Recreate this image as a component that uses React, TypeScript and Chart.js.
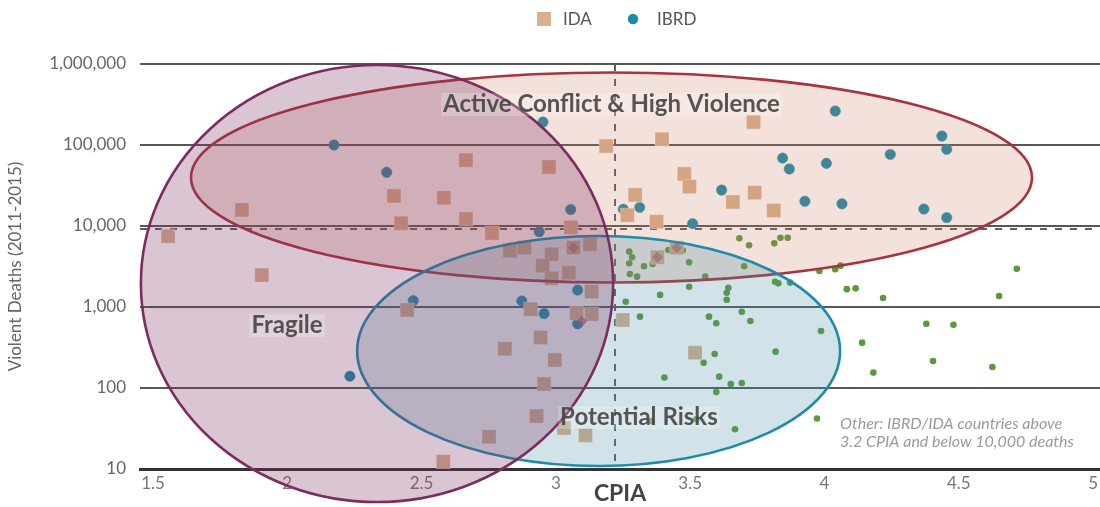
import React, { useEffect, useRef } from "react";
import { Chart, registerables } from "chart.js";

Chart.register(...registerables);

const FONT = "Lato, 'Open Sans', sans-serif";

// Axis ticks
const X_TICKS = [1.5, 2, 2.5, 3, 3.5, 4, 4.5, 5];
const Y_TICKS = [10, 100, 1000, 10000, 100000, 1000000];
const X_RANGE = [1.4516, 5.0257];
const Y_RANGE = [10, 1000000];

// Thresholds
const CPIA_THRESHOLD = 3.22;
const DEATHS_THRESHOLD = 9100;

// Legend
const LEGEND_LABELS = ["IDA", "IBRD"];

// IDA countries
const IDA_CPIA = [1.556, 1.831, 1.905, 2.397, 2.424, 2.446, 2.583, 2.665, 2.665, 2.762, 2.974, 3.187, 3.395, 3.736, 3.295, 3.266, 3.375, 3.478, 3.497, 3.659, 3.74, 3.811, 3.056, 2.829, 2.882, 2.984, 2.951, 2.984, 3.048, 3.065, 3.127, 3.133, 2.906, 3.077, 3.133, 2.943, 2.81, 2.996, 2.956, 2.928, 2.751, 3.03, 3.11, 2.581, 3.249, 3.518, 3.378, 3.45];
const IDA_DEATHS = [7500, 15800, 2480, 23500, 10800, 920, 22300, 65000, 12200, 8200, 53500, 97000, 118000, 192000, 24200, 13600, 11300, 44000, 30600, 19800, 25800, 15500, 9600, 4950, 5400, 4480, 3240, 2260, 2650, 5400, 5950, 1550, 940, 840, 820, 420, 305, 222, 112, 45, 25, 32, 26, 12.3, 690, 273, 4110, 5400];

// IBRD countries
const IBRD_CPIA = [2.174, 2.37, 2.952, 3.055, 2.938, 2.469, 2.233, 2.873, 2.956, 3.081, 3.081, 3.251, 3.312, 3.509, 3.617, 3.844, 3.869, 3.927, 4.007, 4.04, 4.065, 4.245, 4.37, 4.437, 4.455, 4.455];
const IBRD_DEATHS = [100000, 46000, 192000, 16000, 8500, 1200, 140, 1190, 830, 1620, 620, 16100, 17000, 10700, 27800, 69000, 50600, 20200, 59400, 263000, 18800, 76700, 16200, 129000, 88500, 12700];

// Blend (overlapping) markers
const BLEND_CPIA = [3.065, 3.096, 3.378, 3.45];
const BLEND_DEATHS = [5400, 660, 4110, 5400];

// Other IBRD/IDA countries
const OTHER_CPIA = [3.683, 3.719, 3.813, 3.836, 3.863, 3.273, 3.284, 3.273, 3.328, 3.36, 3.419, 3.472, 3.496, 3.275, 3.302, 3.701, 3.556, 3.816, 3.828, 3.872, 3.981, 4.04, 4.06, 4.083, 4.116, 4.218, 4.716, 4.65, 3.26, 3.388, 3.496, 3.642, 3.636, 3.636, 3.313, 3.57, 3.597, 3.692, 3.724, 3.987, 4.379, 4.48, 4.14, 4.404, 4.625, 4.182, 3.818, 3.591, 3.55, 3.404, 3.608, 3.651, 3.692, 3.597, 3.972, 3.667, 3.522, 3.357];
const OTHER_DEATHS = [7050, 5780, 6110, 7170, 7170, 4820, 4110, 3460, 3180, 3400, 5060, 5000, 3560, 2550, 2370, 3180, 2370, 2050, 1960, 2000, 2780, 2920, 3240, 1660, 1700, 1290, 2970, 1370, 1160, 1410, 1780, 1730, 1500, 1230, 760, 760, 630, 875, 671, 506, 622, 604, 363, 215, 182, 155, 281, 263, 205, 135, 138, 112, 115, 89, 42, 31, 41, 39];

// Regions (ellipses in CPIA units and log10 decades)
const REGION_NAMES = ["Active Conflict & High Violence", "Potential Risks", "Fragile"];
const REGION_CENTER_CPIA = [3.207, 3.159, 2.334];
const REGION_CENTER_DEATHS = [39700, 286, 1950];
const REGION_SPAN_CPIA = [1.5655, 0.899, 0.879];
const REGION_SPAN_DECADES = [1.296, 1.42, 2.698];
const REGION_LABEL_CPIA = [3.207, 3.309, 1.999];
const REGION_LABEL_DEATHS = [321000, 43.8, 600];

const NOTE_LINES = ["Other: IBRD/IDA countries above", "3.2 CPIA and below 10,000 deaths"];
const NOTE_CPIA = 4.058;
const NOTE_DEATHS = 36;

const REGION_STYLES = [
  { fill: "rgba(200,120,90,0.22)", stroke: "#A8343E" },
  { fill: "rgba(70,145,165,0.25)", stroke: "#1F8BAA" },
  { fill: "rgba(123,48,96,0.28)", stroke: "#7A2D5E" },
];

const IDA_COLOR = "#D9B18E";
const IBRD_COLOR = "#1A8BAA";
const OTHER_COLOR = "#5A9A3A";
const BLEND_COLOR = "rgba(190,100,100,0.75)";

const zip = (xs: number[], ys: number[]) => xs.map((x, i) => ({ x, y: ys[i] }));

const overlayPlugin = {
  id: "overlay",
  beforeDatasetsDraw(chart: any) {
    const { ctx, chartArea: a, scales } = chart;
    const x = scales.x;
    const y = scales.y;
    ctx.save();
    ctx.strokeStyle = "#5e5e5e";
    ctx.lineWidth = 2;
    ctx.setLineDash([7, 8]);
    const px = Math.round(x.getPixelForValue(CPIA_THRESHOLD));
    ctx.beginPath();
    ctx.moveTo(px, a.top);
    ctx.lineTo(px, a.bottom);
    ctx.stroke();
    const py = Math.round(y.getPixelForValue(DEATHS_THRESHOLD));
    ctx.beginPath();
    ctx.moveTo(a.left, py);
    ctx.lineTo(a.right, py);
    ctx.stroke();
    ctx.restore();
  },
  afterDatasetsDraw(chart: any) {
    const { ctx, chartArea: a, scales } = chart;
    const x = scales.x;
    const y = scales.y;
    ctx.save();
    // ellipses
    for (let i = 0; i < REGION_NAMES.length; i++) {
      const cx = x.getPixelForValue(REGION_CENTER_CPIA[i]);
      const rx = x.getPixelForValue(REGION_CENTER_CPIA[i] + REGION_SPAN_CPIA[i]) - cx;
      const cy = y.getPixelForValue(REGION_CENTER_DEATHS[i]);
      const ry = cy - y.getPixelForValue(REGION_CENTER_DEATHS[i] * Math.pow(10, REGION_SPAN_DECADES[i]));
      ctx.beginPath();
      ctx.ellipse(cx, cy, rx, ry, 0, 0, Math.PI * 2);
      ctx.fillStyle = REGION_STYLES[i].fill;
      ctx.fill();
      ctx.lineWidth = 2.6;
      ctx.strokeStyle = REGION_STYLES[i].stroke;
      ctx.stroke();
    }
    // region labels
    ctx.font = `bold 24px ${FONT}`;
    ctx.textAlign = "center";
    ctx.textBaseline = "middle";
    for (let i = 0; i < REGION_NAMES.length; i++) {
      const lx = x.getPixelForValue(REGION_LABEL_CPIA[i]);
      const ly = y.getPixelForValue(REGION_LABEL_DEATHS[i]);
      const w = ctx.measureText(REGION_NAMES[i]).width;
      ctx.fillStyle = "rgba(255,255,255,0.22)";
      ctx.fillRect(lx - w / 2 - 2, ly - 11, w + 4, 23);
      ctx.fillStyle = "rgba(68,68,68,0.9)";
      ctx.fillText(REGION_NAMES[i], lx, ly);
    }
    // note
    ctx.font = `italic 16px ${FONT}`;
    ctx.textAlign = "left";
    ctx.fillStyle = "#9a9a9a";
    const nx = x.getPixelForValue(NOTE_CPIA);
    const ny = y.getPixelForValue(NOTE_DEATHS);
    NOTE_LINES.forEach((t, i) => ctx.fillText(t, nx, ny + i * 18));
    // legend
    const c = (a.left + a.right) / 2;
    const ly = 19;
    ctx.font = `17px ${FONT}`;
    ctx.fillStyle = IDA_COLOR;
    ctx.fillRect(c - 83, ly - 7, 14, 14);
    ctx.fillStyle = "#555";
    ctx.fillText(LEGEND_LABELS[0], c - 57, ly + 1);
    ctx.fillStyle = IBRD_COLOR;
    ctx.beginPath();
    ctx.arc(c + 13, ly, 5.2, 0, Math.PI * 2);
    ctx.fill();
    ctx.fillStyle = "#555";
    ctx.fillText(LEGEND_LABELS[1], c + 37, ly + 1);
    ctx.restore();
  },
};

export default function App() {
  const ref = useRef<HTMLCanvasElement>(null);
  useEffect(() => {
    const chart = new Chart(ref.current as HTMLCanvasElement, {
      type: "scatter",
      data: {
        datasets: [
          {
            label: "Blend",
            data: zip(BLEND_CPIA, BLEND_DEATHS),
            pointStyle: "rectRot",
            pointRadius: 5.5,
            backgroundColor: BLEND_COLOR,
            borderWidth: 0,
          },
          {
            label: LEGEND_LABELS[0],
            data: zip(IDA_CPIA, IDA_DEATHS),
            pointStyle: "rect",
            pointRadius: 9.9,
            backgroundColor: IDA_COLOR,
            borderColor: "rgba(255,255,255,0.35)",
            borderWidth: 1,
          },
          {
            label: LEGEND_LABELS[1],
            data: zip(IBRD_CPIA, IBRD_DEATHS),
            pointStyle: "circle",
            pointRadius: 5.2,
            backgroundColor: IBRD_COLOR,
            borderColor: IBRD_COLOR,
            borderWidth: 0.5,
          },
          {
            label: "Other",
            data: zip(OTHER_CPIA, OTHER_DEATHS),
            pointStyle: "circle",
            pointRadius: 3.3,
            backgroundColor: OTHER_COLOR,
            borderWidth: 0,
          },
        ],
      },
      options: {
        animation: false,
        responsive: true,
        maintainAspectRatio: false,
        layout: { autoPadding: false, padding: { top: 64, right: 0, bottom: 0, left: 0 } },
        plugins: { legend: { display: false }, tooltip: { enabled: false } },
        scales: {
          x: {
            type: "linear",
            min: X_RANGE[0],
            max: X_RANGE[1],
            afterBuildTicks: (s: any) => {
              s.ticks = X_TICKS.map((v) => ({ value: v }));
            },
            afterFit: (s: any) => {
              s.height = 38;
              s.paddingLeft = 0;
              s.paddingRight = 0;
            },
            grid: { display: false, drawTicks: false },
            border: { display: true, color: "#333", width: 3 },
            ticks: {
              color: "#777",
              font: { family: FONT, size: 17 },
              padding: 4,
              maxRotation: 0,
              callback: (v: any) => String(v),
            },
            title: {
              display: true,
              text: "CPIA",
              color: "#444",
              font: { family: FONT, size: 23, weight: "bold" },
              padding: { top: 0, bottom: 0 },
            },
          },
          y: {
            type: "logarithmic",
            min: Y_RANGE[0],
            max: Y_RANGE[1],
            afterBuildTicks: (s: any) => {
              s.ticks = Y_TICKS.map((v) => ({ value: v }));
            },
            afterFit: (s: any) => {
              s.width = 140;
              s.paddingTop = 0;
              s.paddingBottom = 0;
            },
            grid: { color: "#575757", lineWidth: 2, drawTicks: false },
            border: { display: false },
            ticks: {
              color: "#666",
              font: { family: FONT, size: 17 },
              padding: 14,
              callback: (v: any) => Number(v).toLocaleString("en-US"),
            },
            title: {
              display: true,
              text: "Violent Deaths (2011-2015)",
              color: "#666",
              font: { family: FONT, size: 17 },
              padding: { top: 5, bottom: 0 },
            },
          },
        },
      },
      plugins: [overlayPlugin],
    } as any);
    return () => chart.destroy();
  }, []);
  return (
    <div style={{ position: "absolute", left: 0, top: 0, width: 1100, height: 507, overflow: "hidden" }}>
      <canvas ref={ref} style={{ display: "block" }} />
    </div>
  );
}
